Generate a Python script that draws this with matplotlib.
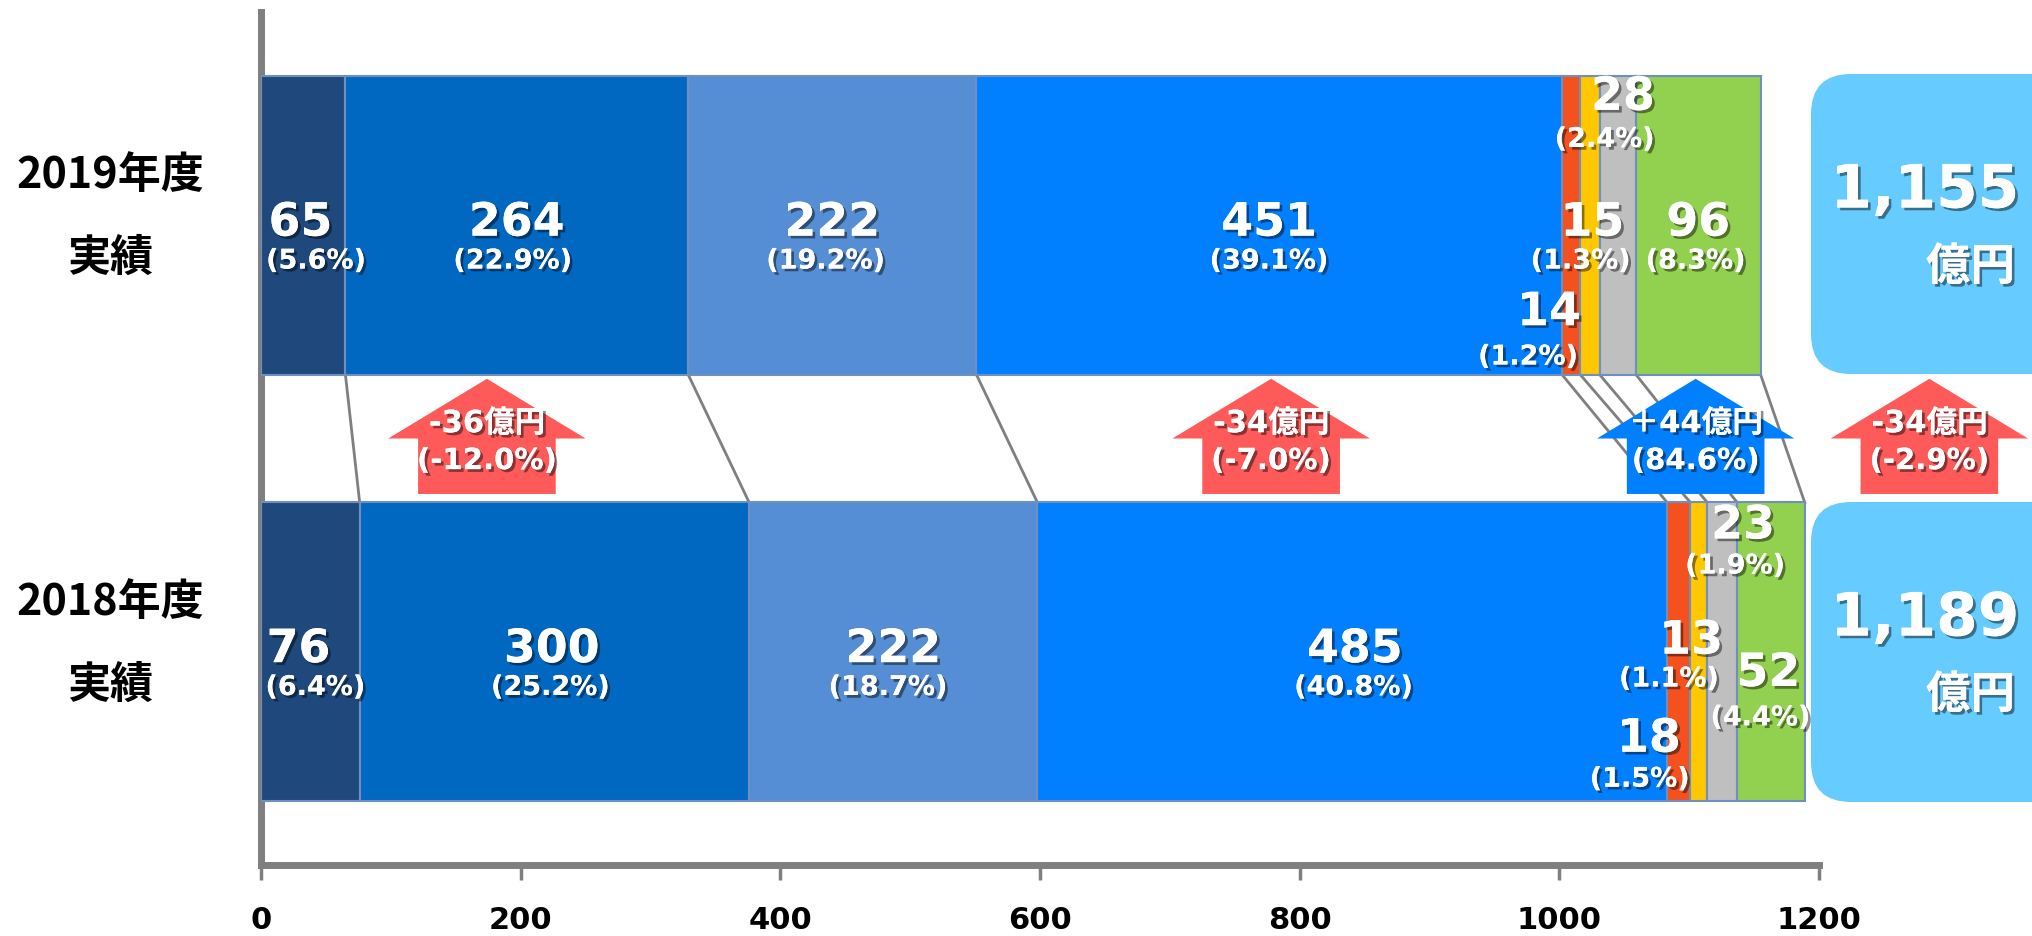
import numpy as np
import matplotlib.pyplot as plt
import matplotlib.patheffects as pe
import matplotlib.transforms as mtransforms
from matplotlib.patches import Polygon, FancyBboxPatch

plt.rcParams['font.family'] = ['DejaVu Sans', 'Noto Sans CJK JP']

# ==========================================
# DATA
# ==========================================

years = ["2018年度\n実績", "2019年度\n実績"]
vals_2018 = [76, 300, 222, 485, 18, 13, 23, 52]
vals_2019 = [65, 264, 222, 451, 14, 15, 28, 96]
pct_2018 = ["6.4", "25.2", "18.7", "40.8", "1.5", "1.1", "1.9", "4.4"]
pct_2019 = ["5.6", "22.9", "19.2", "39.1", "1.2", "1.3", "2.4", "8.3"]
totals = ["1,189", "1,155"]

seg_colors = ["#1F497D", "#0068C0", "#558ED5", "#0080FF",
              "#F4511E", "#FFC700", "#BFBFBF", "#92D050"]

change_text = ["-36億円\n(-12.0%)", "-34億円\n(-7.0%)", "＋44億円\n(84.6%)", "-34億円\n(-2.9%)"]
change_x = [174, 778, 1105, 1285]
change_col = ["#FF5A5A", "#FF5A5A", "#0080FF", "#FF5A5A"]

xticks = [0, 200, 400, 600, 800, 1000, 1200]

# label offsets (x offset from segment centre, y offset from bar centre)
num_off_2018 = [(-9, 0), (-2, 0), (0, 0), (2, 0), (-23, -0.21), (-6, 0.02), (16, 0.29), (-2, -0.056)]
pct_off_2018 = [(4, -0.085), (-3, -0.085), (-4, -0.085), (1, -0.085), (-30, -0.30), (-23, -0.065), (10, 0.20), (-8, -0.156)]
num_off_2019 = [(-2, 0), (0, 0), (0, 0), (0, 0), (-17, -0.21), (2, 0), (4, 0.295), (0, 0)]
pct_off_2019 = [(10, -0.085), (-3, -0.085), (-5, -0.085), (0, -0.085), (-33, -0.31), (-7, -0.085), (-10, 0.20), (-2, -0.085)]

# ==========================================
# FIGURE
# ==========================================

W, H = 2033, 937
fig = plt.figure(figsize=(W / 100, H / 100), dpi=100)
ax = fig.add_axes([261 / W, 71 / H, 1558 / W, 853 / H])
px = mtransforms.Affine2D().scale(1 / W, 1 / H) + fig.transFigure

shadow = [pe.withSimplePatchShadow(offset=(2, -2), shadow_rgbFace="black", alpha=0.45), pe.Normal()]
BAR_H = 0.70
ypos = [0, 1]

all_vals = [vals_2018, vals_2019]
all_pct = [pct_2018, pct_2019]
all_num_off = [num_off_2018, num_off_2019]
all_pct_off = [pct_off_2018, pct_off_2019]

for yi, vals, pcts, noff, poff in zip(ypos, all_vals, all_pct, all_num_off, all_pct_off):
    left = np.concatenate([[0], np.cumsum(vals)[:-1]])
    ax.barh(yi, vals, left=left, height=BAR_H, color=seg_colors,
            edgecolor="#6F8FC0", linewidth=1.5, zorder=3)
    for i, v in enumerate(vals):
        cx = left[i] + v / 2
        ax.text(cx + noff[i][0], yi + noff[i][1] + 0.005, str(v), ha="center", va="center",
                fontsize=33, fontweight="bold", color="white", path_effects=shadow, zorder=6)
        ax.text(cx + poff[i][0], yi + poff[i][1], f"({pcts[i]}%)", ha="center", va="center",
                fontsize=19.5, fontweight="bold", color="white", path_effects=shadow, zorder=6)

# connecting lines between bars
c18 = np.cumsum(vals_2018)
c19 = np.cumsum(vals_2019)
for a, b in zip(c19, c18):
    ax.plot([a, b], [1 - BAR_H / 2, BAR_H / 2], color="#7F7F7F", lw=2, zorder=2)

# change arrows
for cx, txt, col in zip(change_x, change_text, change_col):
    pts = [(cx - 53, 0.37), (cx + 53, 0.37), (cx + 53, 0.50), (cx + 76, 0.50),
           (cx, 0.64), (cx - 76, 0.50), (cx - 53, 0.50)]
    ax.add_patch(Polygon(pts, closed=True, facecolor=col, edgecolor="none",
                         zorder=4, clip_on=False))
    l1, l2 = txt.split("\n")
    ax.text(cx, 0.535, l1, ha="center", va="center", fontsize=22, fontweight="bold",
            color="white", path_effects=shadow, zorder=6, clip_on=False)
    ax.text(cx, 0.447, l2, ha="center", va="center", fontsize=21, fontweight="bold",
            color="white", path_effects=shadow, zorder=6, clip_on=False)

# total boxes
box_top = [803, 375]
for top, tot in zip(box_top, totals):
    y0 = H - top
    fig.patches.append(FancyBboxPatch((1811 + 40, y0 + 40), 260, 300 - 80,
                                      boxstyle="round,pad=40", transform=px,
                                      facecolor="#66CCFF", edgecolor="none"))
    fig.text(1925, y0 + 183, tot, transform=px, ha="center", va="center",
             fontsize=43, fontweight="bold", color="white", path_effects=shadow)
    fig.text(2015, y0 + 107, "億円", transform=px, ha="right", va="center",
             fontsize=32, fontweight="bold", color="white", path_effects=shadow,
             family="Noto Sans CJK JP")

# y labels
for yi, lab in zip(ypos, years):
    l1, l2 = lab.split("\n")
    ax.text(-116, yi + 0.12, l1, ha="center", va="center", fontsize=31,
            fontweight="bold", family="Noto Sans CJK JP", clip_on=False)
    ax.text(-116, yi - 0.075, l2, ha="center", va="center", fontsize=31,
            fontweight="bold", family="Noto Sans CJK JP", clip_on=False)

# axes
ax.set_xlim(0, 1200)
ax.set_ylim(-0.5, 1.5)
ax.set_xticks(xticks)
ax.set_xticklabels([str(t) for t in xticks], fontsize=22, fontweight="bold")
ax.set_yticks([])
ax.tick_params(axis="x", length=11, width=2.5, color="#7F7F7F", pad=18)
for s in ["top", "right"]:
    ax.spines[s].set_visible(False)
for s in ["left", "bottom"]:
    ax.spines[s].set_color("#7F7F7F")
    ax.spines[s].set_linewidth(5)

fig.savefig("out.png", dpi=100)
